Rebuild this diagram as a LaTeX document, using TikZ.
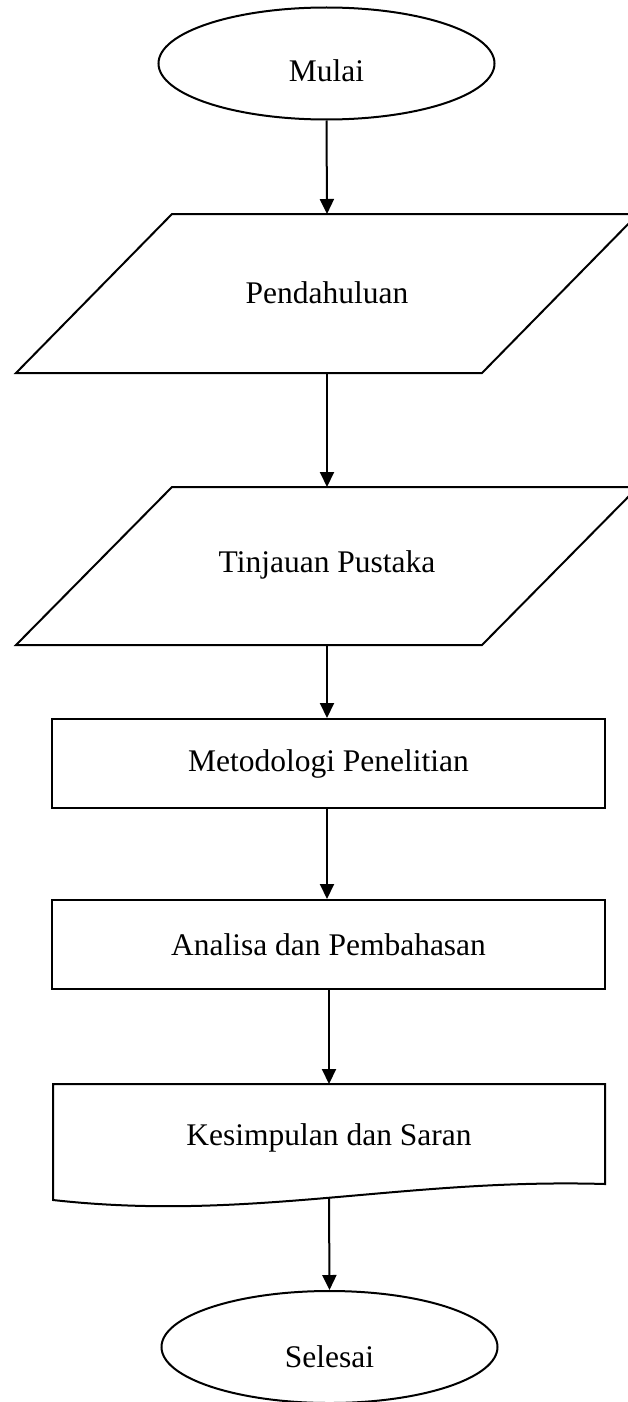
\documentclass[tikz,border=0pt]{standalone}
\usepackage{fontspec}
\setmainfont{Liberation Serif}
\usetikzlibrary{shapes.geometric,arrows.meta}
\tikzset{
  base/.style={draw=black, line width=2pt, fill=white, inner sep=0pt, font=\fontsize{31.5}{36}\selectfont},
  term/.style={base, ellipse, minimum width=336pt, minimum height=112pt},
  proc/.style={base, rectangle, minimum width=553pt, minimum height=89pt},
  shapeline/.style={line width=2pt, fill=white, line join=miter},
  lbl/.style={inner sep=0pt, font=\fontsize{31.5}{36}\selectfont},
  arr/.style={line width=2pt, -{Triangle[width=14pt,length=15pt]}}
}
\begin{document}
\begin{tikzpicture}[x=1pt,y=-1pt]
\useasboundingbox (0,0) rectangle (628,1402);
\clip (0,0) rectangle (628,1402);
\fill[white] (0,0) rectangle (628,1402);

\node[term] (start) at (326.5,63.5) {};
\node[lbl] (startt) at (326.5,71) {Mulai};

% Pendahuluan (parallelogram)
\draw[shapeline] (172,214) -- (638,214) -- (482,373) -- (16,373) -- cycle;
\node[lbl] (pend) at (327,293) {Pendahuluan};
\coordinate (pendt) at (327,214);
\coordinate (pendb) at (327,373);

% Tinjauan Pustaka (parallelogram)
\draw[shapeline] (172,487) -- (638,487) -- (482,645) -- (16,645) -- cycle;
\node[lbl] (tinj) at (327,565) {Tinjauan Pustaka};
\coordinate (tinjt) at (327,487);
\coordinate (tinjb) at (327,645);

\node[proc] (meto) at (328.5,763.5) {Metodologi Penelitian};
\node[proc] (anal) at (328.5,944.5) {Analisa dan Pembahasan};

% Kesimpulan dan Saran (document)
\draw[shapeline] (53,1084) -- (605,1084) -- (605,1184)
  .. controls (400,1178) and (250,1222) .. (53,1200) -- cycle;
\node[lbl] (kesi) at (329,1138) {Kesimpulan dan Saran};
\coordinate (kesib) at (329,1198);
\coordinate (kesit) at (329,1084);

\node[term] (end) at (329.5,1347) {};
\node[lbl] (endt) at (329.5,1357) {Selesai};

\draw[arr] (start.south) -- (pendt);
\draw[arr] (pendb) -- (tinjt);
\draw[arr] (tinjb) -- (meto.north -| tinjb);
\draw[arr] (meto.south -| tinjb) -- (anal.north -| tinjb);
\draw[arr] (anal.south -| kesit) -- (kesit);
\draw[arr] (kesib) -- (end.north);
\end{tikzpicture}
\end{document}
